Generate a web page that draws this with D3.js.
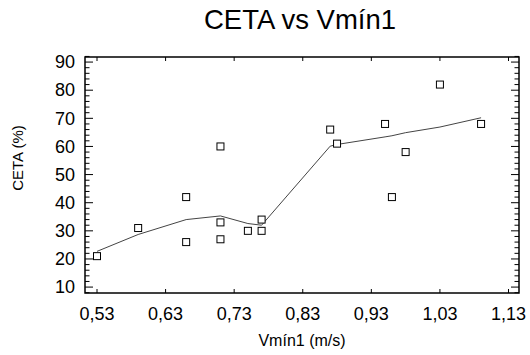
<!DOCTYPE html>
<html>
<head>
<meta charset="utf-8">
<script src="https://cdn.jsdelivr.net/npm/d3@7"></script>
<style>
  body { margin: 0; background: #fff; }
  text { font-family: "Liberation Sans", Arial, sans-serif; fill: #000; }
</style>
</head>
<body>
<svg id="chart" width="530" height="355"></svg>
<script>
// observed points
const vmin = [0.53, 0.59, 0.66, 0.66, 0.71, 0.71, 0.71, 0.75, 0.77, 0.77, 0.87, 0.88, 0.95, 0.96, 0.98, 1.03, 1.09];
const ceta = [21, 31, 42, 26, 60, 33, 27, 30, 30, 34, 66, 61, 68, 42, 58, 82, 68];

// smoothed fit line
const fitX = [0.53, 0.59, 0.66, 0.71, 0.75, 0.77, 0.87, 0.88, 0.95, 0.96, 0.98, 1.03, 1.09];
const fitY = [22.7, 28.7, 34.0, 35.3, 32.6, 32.0, 60.1, 60.7, 63.4, 63.8, 64.9, 66.9, 70.2];

const xTicks = [0.53, 0.63, 0.73, 0.83, 0.93, 1.03, 1.13];
const yTicks = [10, 20, 30, 40, 50, 60, 70, 80, 90];
const yMinor = d3.range(8, 93, 2);

const svg = d3.select("#chart");
const pLeft = 85, pRight = 519, pTop = 57, pBottom = 293;

const x = d3.scaleLinear().domain([0.5125, 1.1453]).range([pLeft, pRight]);
const y = d3.scaleLinear().domain([7.9, 91.8]).range([pBottom, pTop]);

const fmt = v => d3.format(".2f")(v).replace(".", ",");

// title
svg.append("text")
    .attr("x", 300)
    .attr("y", 29)
    .attr("text-anchor", "middle")
    .style("font-size", "27.5px")
    .text("CETA vs Vmín1");

// y minor + major ticks, both sides, pointing inward
const tickG = svg.append("g").attr("stroke", "#000").attr("stroke-width", 1);
yMinor.forEach(v => {
    const major = v % 10 === 0;
    const len = major ? 8 : 4.5;
    tickG.append("line").attr("x1", pLeft).attr("x2", pLeft + len).attr("y1", y(v)).attr("y2", y(v));
    tickG.append("line").attr("x1", pRight).attr("x2", pRight - len).attr("y1", y(v)).attr("y2", y(v));
});
xTicks.forEach(v => {
    tickG.append("line").attr("x1", x(v)).attr("x2", x(v)).attr("y1", pBottom).attr("y2", pBottom - 4);
    tickG.append("line").attr("x1", x(v)).attr("x2", x(v)).attr("y1", pTop).attr("y2", pTop + 4);
});

// frame
svg.append("rect")
    .attr("x", pLeft).attr("y", pTop)
    .attr("width", pRight - pLeft).attr("height", pBottom - pTop)
    .attr("fill", "none").attr("stroke", "#000").attr("stroke-width", 1.5);

// tick labels
svg.append("g").selectAll("text")
    .data(yTicks)
    .enter()
    .append("text")
    .attr("x", pLeft - 10)
    .attr("y", d => y(d))
    .attr("dy", "0.35em")
    .attr("text-anchor", "end")
    .style("font-size", "18px")
    .text(d => d);

svg.append("g").selectAll("text")
    .data(xTicks)
    .enter()
    .append("text")
    .attr("x", d => x(d))
    .attr("y", 320)
    .attr("text-anchor", "middle")
    .style("font-size", "18px")
    .text(fmt);

// axis titles
svg.append("text")
    .attr("x", 302)
    .attr("y", 346)
    .attr("text-anchor", "middle")
    .style("font-size", "16px")
    .text("Vmín1 (m/s)");

svg.append("text")
    .attr("transform", "translate(23, 158) rotate(-90)")
    .attr("text-anchor", "middle")
    .style("font-size", "15px")
    .text("CETA (%)");

// fit line
const line = d3.line().x(d => x(d[0])).y(d => y(d[1]));
svg.append("path")
    .datum(d3.zip(fitX, fitY))
    .attr("d", line)
    .attr("fill", "none")
    .attr("stroke", "#444")
    .attr("stroke-width", 1);

// points
const s = 7;
svg.append("g").selectAll("rect")
    .data(d3.zip(vmin, ceta))
    .enter()
    .append("rect")
    .attr("x", d => x(d[0]) - s / 2)
    .attr("y", d => y(d[1]) - s / 2)
    .attr("width", s)
    .attr("height", s)
    .attr("fill", "#fff")
    .attr("stroke", "#000")
    .attr("stroke-width", 1);
</script>
</body>
</html>
